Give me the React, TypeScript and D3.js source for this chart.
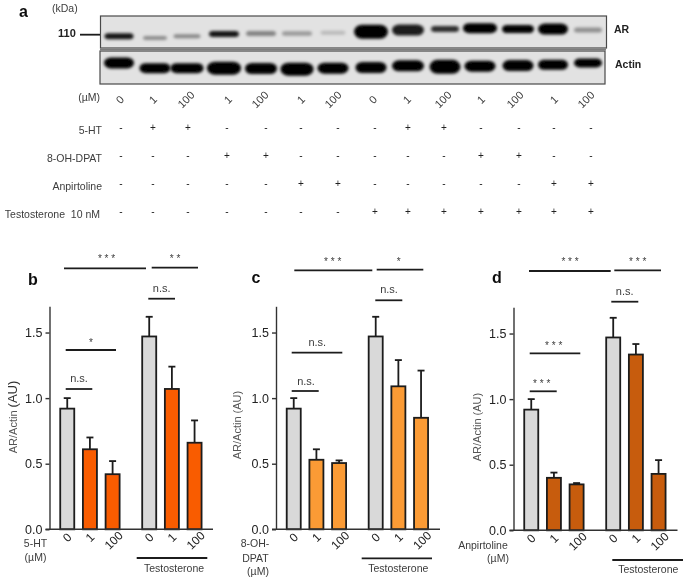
import { useEffect, useRef } from 'react';
import * as d3 from 'd3';

// blot readings, one entry per lane
const doses = ['0', '1', '100', '1', '100', '1', '100', '0', '1', '100', '1', '100', '1', '100'];
const arDensity = [0.9, 0.38, 0.4, 0.9, 0.42, 0.32, 0.18, 1, 0.88, 0.8, 1, 1, 1, 0.36];
const arThickness = [6, 4, 4, 6, 5, 4.5, 4, 14, 11, 6, 10, 8, 11, 5];
const arLength = [29, 24, 27, 30, 30, 30, 25, 34, 32, 28, 34, 32, 30, 28];
const arLevel = [0.63, 0.69, 0.63, 0.56, 0.55, 0.55, 0.52, 0.49, 0.44, 0.41, 0.38, 0.41, 0.41, 0.44];
const actinThickness = [11, 10, 10, 13, 11, 13, 11, 11, 11, 14, 11, 11, 10, 9];
const actinLength = [30, 31, 33, 34, 32, 33, 31, 31, 32, 31, 31, 31, 30, 28];
const actinLevel = [0.36, 0.52, 0.52, 0.52, 0.53, 0.55, 0.52, 0.5, 0.45, 0.48, 0.46, 0.44, 0.42, 0.36];

const treatments = ['5-HT', '8-OH-DPAT', 'Anpirtoline', 'Testosterone  10 nM'];
const treatmentSigns = [
  '-++-----++----',
  '---++-----++--',
  '-----++-----++',
  '-------+++++++',
];

// bar charts
const groups = ['vehicle', 'testosterone'];
const concentrations = ['0', '1', '100'];
const yTicks = [0, 0.5, 1, 1.5];

const meanB = [0.92, 0.61, 0.42, 1.47, 1.07, 0.66];
const upperB = [1.0, 0.7, 0.52, 1.62, 1.24, 0.83];
const meanC = [0.92, 0.53, 0.505, 1.47, 1.09, 0.85];
const upperC = [1.0, 0.61, 0.525, 1.62, 1.29, 1.21];
const meanD = [0.92, 0.4, 0.35, 1.47, 1.34, 0.43];
const upperD = [1.0, 0.44, 0.36, 1.62, 1.42, 0.535];

const TEXT = '#3c3c3c';
const INK = '#1c1c1c';
const FONT = '"Liberation Sans", Arial, sans-serif';

// [label, x1, x2, line y, label x, label y]
type Bracket = [string, number, number, number, number, number];

const panels = [
  {
    letter: 'b', letterX: 28, letterY: 285,
    originX: 49.5, endX: 213, y0: 529.3, mean: meanB, upper: upperB, fill: '#f95b06',
    yLabelX: 17, yLabelY: 417, big: true,
    drug: [['5-HT', 35.5, 547], ['(µM)', 35.5, 561]],
    testosterone: [136.7, 207.3, 558, 174, 572],
    brackets: [
      ['* * *', 64, 146, 268.3, 106.5, 262],
      ['* *', 151.7, 198, 267.7, 175, 262],
      ['n.s.', 148.3, 175, 298.7, 161.7, 292],
      ['*', 65.7, 116, 350, 91, 346],
      ['n.s.', 65.7, 92.3, 389, 79, 382],
    ] as Bracket[],
  },
  {
    letter: 'c', letterX: 251.5, letterY: 283,
    originX: 276, endX: 440, y0: 529.3, mean: meanC, upper: upperC, fill: '#fb9b35',
    yLabelX: 241, yLabelY: 425, big: false,
    drug: [['8-OH-', 255, 547], ['DPAT', 255.5, 562], ['(µM)', 258, 575]],
    testosterone: [361.7, 432, 558.3, 398.3, 572],
    brackets: [
      ['* * *', 294.3, 372.3, 270.3, 332.7, 265],
      ['*', 376.7, 423.3, 269.7, 398.7, 265],
      ['n.s.', 375.3, 402.3, 300.3, 389, 293],
      ['n.s.', 291.7, 342.3, 352.7, 317.3, 345.7],
      ['n.s.', 291.7, 318.7, 391, 306, 385],
    ] as Bracket[],
  },
  {
    letter: 'd', letterX: 492, letterY: 283,
    originX: 513.5, endX: 677.5, y0: 530.3, mean: meanD, upper: upperD, fill: '#c75c0a',
    yLabelX: 481, yLabelY: 427, big: false,
    drug: [['Anpirtoline', 483, 549], ['(µM)', 498, 562]],
    testosterone: [612.3, 683, 560, 648.3, 573],
    brackets: [
      ['* * *', 529, 610.7, 271, 570, 265],
      ['* * *', 614.3, 661, 270.3, 637.7, 265],
      ['n.s.', 611.3, 638.3, 301.7, 624.7, 295],
      ['* * *', 529.7, 580.3, 353.3, 553.7, 349],
      ['* * *', 529.7, 556.7, 391.3, 541.7, 387],
    ] as Bracket[],
  },
];

export default function App() {
  const svgRef = useRef<SVGSVGElement>(null);

  useEffect(() => {
    if (!svgRef.current) return;
    const svg = d3.select(svgRef.current);
    svg.selectAll('*').remove();

    const defs = svg.append('defs');
    defs.append('filter').attr('id', 'band').attr('x', '-30%').attr('y', '-100%')
      .attr('width', '160%').attr('height', '300%')
      .append('feGaussianBlur').attr('stdDeviation', 1.5);
    defs.append('filter').attr('id', 'soft').attr('x', 0).attr('y', 0)
      .attr('width', '100%').attr('height', '100%')
      .attr('filterUnits', 'userSpaceOnUse')
      .append('feGaussianBlur').attr('stdDeviation', 0.3);

    const root = svg.append('g').attr('filter', 'url(#soft)').style('font-family', FONT);

    const label = (text: string, x: number, y: number, size: number, anchor = 'start', weight = 'normal', fill = TEXT) =>
      root.append('text').attr('x', x).attr('y', y).attr('text-anchor', anchor)
        .attr('fill', fill).style('font-size', `${size}px`).style('font-weight', weight)
        .style('white-space', 'pre').text(text);

    // panel a
    const lanes = d3.range(doses.length);
    const bandX = d3.scaleLinear().domain(lanes)
      .range([119, 155, 187, 224, 261, 297, 333, 371, 408, 445, 480, 518, 553, 588]);
    const doseX = d3.scaleLinear().domain(lanes)
      .range([120, 153, 186, 228, 260, 301, 333, 373, 407, 443, 481, 515, 554, 586]);
    const signX = d3.scaleLinear().domain(lanes)
      .range([121, 153, 188, 227, 266, 301, 338, 375, 408, 444, 481, 519, 554, 591]);
    const rowY = d3.scalePoint<string>().domain(treatments).range([127, 211]);

    const blot = (top: number, bottom: number, left: number, right: number,
      density: number[], thick: number[], length: number[], level: number[]) => {
      const y = d3.scaleLinear().domain([0, 1]).range([top, bottom]);
      root.append('rect').attr('x', left).attr('y', top).attr('width', right - left).attr('height', bottom - top)
        .attr('fill', '#e2e2e2');
      root.append('g').selectAll('rect').data(lanes).join('rect')
        .attr('x', (i) => bandX(i) - length[i] / 2)
        .attr('y', (i) => y(level[i]) - thick[i] / 2)
        .attr('width', (i) => length[i])
        .attr('height', (i) => thick[i])
        .attr('rx', (i) => Math.min(8, thick[i] / 1.6))
        .attr('ry', (i) => thick[i] / 2)
        .attr('fill', '#000')
        .attr('fill-opacity', (i) => density[i])
        .attr('filter', 'url(#band)');
      root.append('rect').attr('x', left).attr('y', top).attr('width', right - left).attr('height', bottom - top)
        .attr('fill', 'none').attr('stroke', '#4a4a4a').attr('stroke-width', 1.2);
    };
    blot(16, 48, 100.5, 606.5, arDensity, arThickness, arLength, arLevel);
    blot(51, 84, 100, 605, lanes.map(() => 1), actinThickness, actinLength, actinLevel);
    root.append('line').attr('x1', 100).attr('x2', 606).attr('y1', 49.5).attr('y2', 49.5)
      .attr('stroke', '#7c7c7c').attr('stroke-width', 2);

    label('a', 19, 17, 16, 'start', 'bold', '#111');
    label('(kDa)', 52, 12, 10.5);
    label('110', 58, 37, 11, 'start', 'bold', '#222');
    root.append('line').attr('x1', 80).attr('x2', 100).attr('y1', 34.7).attr('y2', 34.7)
      .attr('stroke', INK).attr('stroke-width', 1.8);
    label('AR', 614, 33, 10.5, 'start', 'bold', '#222');
    label('Actin', 615, 67.5, 10.5, 'start', 'bold', '#222');
    label('(µM)', 100, 101, 10.5, 'end');

    root.append('g').selectAll('text').data(lanes).join('text')
      .attr('transform', (i) => `translate(${doseX(i)},${99.5}) rotate(-45)`)
      .attr('text-anchor', 'middle').attr('dy', '0.35em')
      .attr('fill', TEXT).style('font-size', '11px')
      .text((i) => doses[i]);

    treatments.forEach((name, row) => {
      const y = rowY(name) ?? 0;
      label(name, row === 3 ? 100 : 102, y + 7, 10.5, 'end');
      root.append('g').selectAll('text').data(lanes).join('text')
        .attr('x', (i) => signX(i))
        .attr('y', y + 4)
        .attr('text-anchor', 'middle')
        .attr('fill', '#222').style('font-size', '10px')
        .text((i) => treatmentSigns[row][i]);
    });

    // panels b-d
    panels.forEach((p) => {
      const g = root.append('g').attr('transform', `translate(${p.originX},0)`);
      const y = d3.scaleLinear().domain([0, 1.7]).range([p.y0, p.y0 - 223]);
      const outer = d3.scaleBand().domain(groups).range([6.4, 156.4]).paddingInner(0.17);
      const inner = d3.scaleBand().domain(concentrations).range([0, outer.bandwidth()])
        .paddingInner(0.382).paddingOuter(0.191);

      const bars = groups.flatMap((group, gi) => concentrations.map((conc, ci) => {
        const i = gi * concentrations.length + ci;
        return { group, conc, mean: p.mean[i], upper: p.upper[i], x: (outer(group) ?? 0) + (inner(conc) ?? 0) };
      }));
      const w = inner.bandwidth();

      // error bars sit behind the columns
      const err = g.append('g').attr('stroke', INK).attr('stroke-width', 1.8);
      err.selectAll('line.stem').data(bars).join('line').attr('class', 'stem')
        .attr('x1', (d) => d.x + w / 2).attr('x2', (d) => d.x + w / 2)
        .attr('y1', (d) => y(d.mean)).attr('y2', (d) => y(d.upper));
      err.selectAll('line.cap').data(bars).join('line').attr('class', 'cap')
        .attr('x1', (d) => d.x + w / 2 - 3.5).attr('x2', (d) => d.x + w / 2 + 3.5)
        .attr('y1', (d) => y(d.upper)).attr('y2', (d) => y(d.upper));

      g.append('g').selectAll('rect').data(bars).join('rect')
        .attr('x', (d) => d.x)
        .attr('y', (d) => y(d.mean))
        .attr('width', w)
        .attr('height', (d) => y(0) - y(d.mean))
        .attr('fill', (d) => (d.conc === '0' ? '#d9d9d9' : p.fill))
        .attr('stroke', INK)
        .attr('stroke-width', 1.8);

      const yAxis = g.append('g').call(
        d3.axisLeft(y).tickValues(yTicks).tickFormat(d3.format('.1f')).tickSize(4).tickSizeOuter(0) as never
      );
      yAxis.selectAll('text').attr('fill', '#222').style('font-size', '12.5px').style('font-family', FONT);

      g.append('line').attr('x1', -4).attr('x2', p.endX - p.originX)
        .attr('y1', y(0)).attr('y2', y(0)).attr('stroke', '#333').attr('stroke-width', 1.4);
      g.selectAll('.domain, .tick line').attr('stroke', '#333').attr('stroke-width', 1.4);

      g.append('g').selectAll('text').data(bars).join('text')
        .attr('transform', (d) => `translate(${d.x + w / 2 + (d.conc === '100' ? 1 : 0)},${y(0) + (d.conc === '100' ? 11 : 8)}) rotate(-45)`)
        .attr('text-anchor', 'middle').attr('dy', '0.35em')
        .attr('fill', '#222').style('font-size', '12px')
        .text((d) => d.conc);

      label(p.letter, p.letterX, p.letterY, 16, 'start', 'bold', '#111');

      const yl = root.append('text')
        .attr('transform', `translate(${p.yLabelX},${p.yLabelY}) rotate(-90)`)
        .attr('text-anchor', 'middle').attr('fill', '#555').style('font-size', '11px');
      yl.append('tspan').text('AR/Actin ');
      yl.append('tspan').style('font-size', p.big ? '13px' : '11px').attr('fill', p.big ? '#333' : '#555').text('(AU)');

      (p.drug as [string, number, number][]).forEach(([t, x, yy]) => label(t, x, yy, 10.5, 'middle'));

      const [tx1, tx2, ty, tlx, tly] = p.testosterone;
      root.append('line').attr('x1', tx1).attr('x2', tx2).attr('y1', ty).attr('y2', ty)
        .attr('stroke', INK).attr('stroke-width', 1.8);
      label('Testosterone', tlx, tly, 10.5, 'middle');

      p.brackets.forEach(([t, x1, x2, ly, lx, lty]) => {
        root.append('line').attr('x1', x1).attr('x2', x2).attr('y1', ly).attr('y2', ly)
          .attr('stroke', INK).attr('stroke-width', 1.8);
        label(t, lx, lty, t === 'n.s.' ? 11 : 10, 'middle');
      });
    });
  }, []);

  return (
    <svg
      ref={svgRef}
      width={685}
      height={579}
      style={{ position: 'absolute', left: 0, top: 0, background: '#fff' }}
    />
  );
}
